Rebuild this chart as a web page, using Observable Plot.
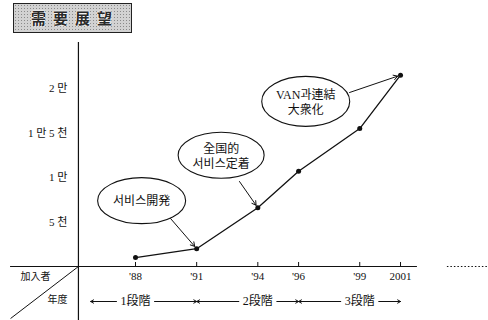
<!DOCTYPE html>
<html><head><meta charset="utf-8">
<script src="https://cdn.jsdelivr.net/npm/d3@7"></script>
<script src="https://cdn.jsdelivr.net/npm/@observablehq/plot@0.6"></script>
<style>
body{margin:0;background:#fff;}
#wrap{position:relative;width:488px;height:320px;}
#title{position:absolute;left:13px;top:3px;width:112px;height:28px;border:1.5px solid #222;
 background-color:#d2d2d2;background-image:radial-gradient(#8a8a8a 0.7px, transparent 0.9px);background-size:3px 3px;
 font-family:"Noto Sans CJK JP";font-weight:700;font-size:15px;letter-spacing:7px;padding-left:5px;box-sizing:content-box;
 color:#2a2a2a;line-height:28px;text-align:center;text-shadow:0 0 2px #fff,0 0 2px #fff,0 0 1px #fff;}
</style></head>
<body><div id="wrap"><div id="title">需要展望</div></div>
<script>
// ---- data ----
const years = [1988, 1991, 1994, 1996, 1999, 2001];
const yearLabels = ["'88", "'91", "'94", "'96", "'99", "2001"];
const subscribers = [1000, 2000, 6600, 10700, 15500, 21500];
const yTicks = [5000, 10000, 15000, 20000];
const yTickLabels = ["5 천", "1 만", "1 만 5 천", "2 만"];
const stageLabels = ["1段階", "2段階", "3段階"];
const stageStart = [1985.8, 1991, 1996];
const stageMid = [1988, 1994, 1999];
const stageEnd = [1991, 1996, 2001];
const annLabels = ["서비스開発", "全国的\n서비스定着", "VAN과連結\n大衆化"];
const annX = [1988.3, 1992.2, 1996.35];
const annY = [7400, 12500, 18550];
const annFromX = [1989.72, 1993.1, 1998.5];
const annFromY = [5390, 9550, 19550];
const annToYear = [1991, 1994, 2001];

// ---- tables ----
const points = years.map((year, i) => ({year, value: subscribers[i], label: yearLabels[i]}));
const ticks = yTicks.map((v, i) => ({v, label: yTickLabels[i]}));
const stages = stageLabels.map((label, i) => ({label, start: stageStart[i], mid: stageMid[i], end: stageEnd[i]}));
const anns = annLabels.map((label, i) => {
  const t = points.find(p => p.year === annToYear[i]);
  return {label, x: annX[i], y: annY[i], fx: annFromX[i], fy: annFromY[i], tx: t.year, ty: t.value};
});

// ---- frame ----
const X0 = 1981.377, X1 = 2005.316, Y0 = -6067, Y1 = 29888;
const axisX = 1985.2;
const ink = "#111";

function ellipse(rx, ry) {
  const k = 0.5523;
  return {draw(c) {
    c.moveTo(rx, 0);
    c.bezierCurveTo(rx, ry * k, rx * k, ry, 0, ry);
    c.bezierCurveTo(-rx * k, ry, -rx, ry * k, -rx, 0);
    c.bezierCurveTo(-rx, -ry * k, -rx * k, -ry, 0, -ry);
    c.bezierCurveTo(rx * k, -ry, rx, -ry * k, rx, 0);
    c.closePath();
  }};
}
const ellSizes = [[44, 23], [43, 23], [44, 25]];

const chart = Plot.plot({
  width: 488, height: 320, margin: 0,
  x: {domain: [X0, X1], axis: null},
  y: {domain: [Y0, Y1], axis: null},
  style: {fontFamily: '"Liberation Serif","Noto Sans CJK KR",serif', fontSize: "11px", color: ink, background: "#fff"},
  marks: [
    // baseline
    Plot.ruleY([0], {x1: 1981.87, x2: 2001.83, stroke: ink, strokeWidth: 1.2}),
    Plot.ruleY([0], {x1: 2003.3, x2: X1, stroke: ink, strokeWidth: 1, strokeDasharray: "1.5,2"}),
    // vertical axis
    Plot.ruleX([axisX], {y1: Y0, y2: 25170, stroke: ink, strokeWidth: 1.2}),
    // corner diagonal
    Plot.link([0], {x1: axisX, y1: 0, x2: 1981.87, y2: -5843, stroke: ink, strokeWidth: 1}),
    // x ticks & labels
    Plot.ruleX(points, {x: "year", y1: 0, y2: 450, stroke: ink}),
    Plot.text(points, {x: "year", y: 0, text: "label", dy: 10}),
    // y tick labels
    Plot.text(ticks, {x: axisX, y: "v", text: "label", textAnchor: "end", dx: -11}),
    // row headers
    Plot.text(["加入者"], {x: 1983.09, y: 0, text: d => d, dy: 10, fontSize: 10}),
    Plot.text(["年度"], {x: 1984.17, y: -3708, text: d => d, fontSize: 10}),
    // stages
    Plot.arrow(stages, {x1: "mid", x2: "start", y1: -3933, y2: -3933, insetStart: 19, headLength: 5, stroke: ink, strokeWidth: 1}),
    Plot.arrow(stages, {x1: "mid", x2: "end", y1: -3933, y2: -3933, insetStart: 19, headLength: 5, stroke: ink, strokeWidth: 1}),
    Plot.text(stages, {x: "mid", y: -3933, text: "label", fontSize: 12}),
    // series
    Plot.line(points, {x: "year", y: "value", stroke: ink, strokeWidth: 1.3}),
    Plot.dot(points, {x: "year", y: "value", r: 2.5, fill: ink}),
    // annotations
    ...anns.map((a, i) => Plot.dot([a], {x: "x", y: "y", symbol: ellipse(...ellSizes[i]), fill: "none", stroke: ink, strokeWidth: 1.1})),
    Plot.text(anns, {x: "x", y: "y", text: "label", fontSize: 12, lineHeight: 1.25}),
    Plot.arrow(anns, {x1: "fx", y1: "fy", x2: "tx", y2: "ty", insetEnd: 3, headLength: 7, stroke: ink, strokeWidth: 1})
  ]
});
document.getElementById("wrap").prepend(chart);
</script>
</body></html>
